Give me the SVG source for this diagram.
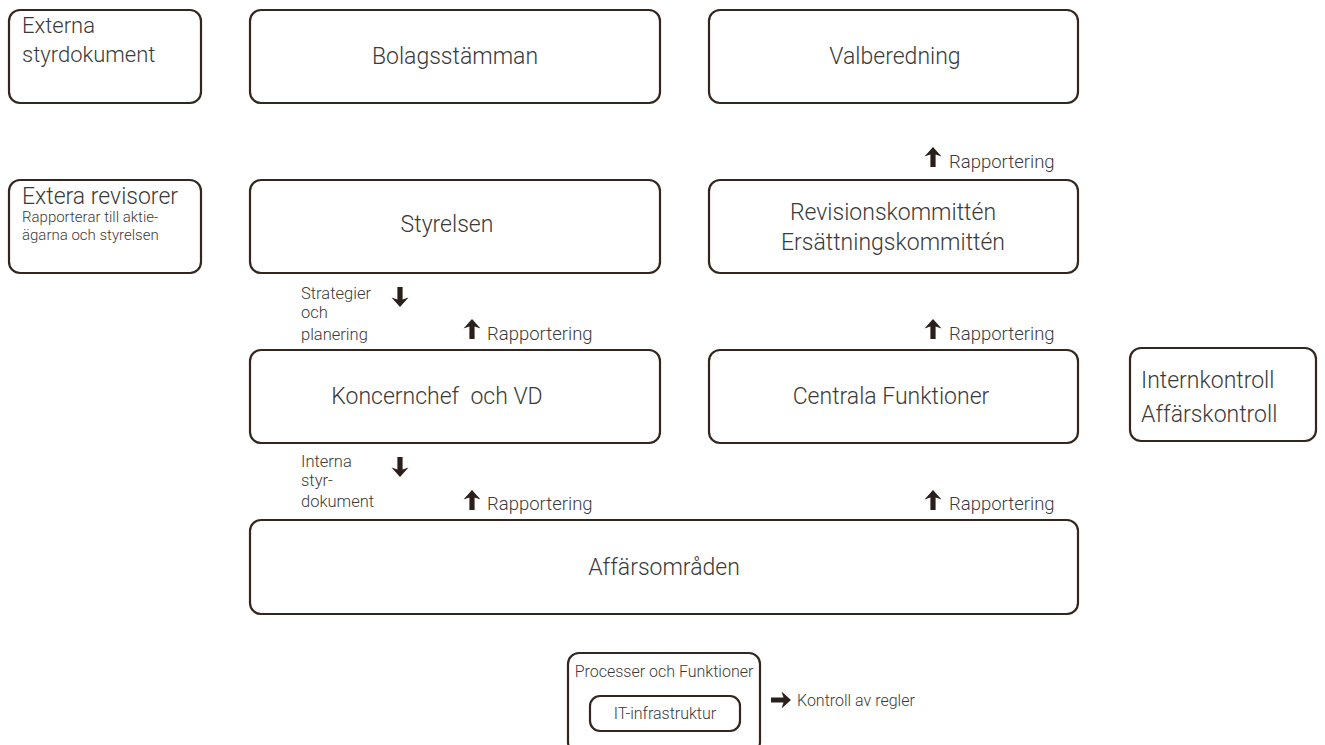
<svg xmlns="http://www.w3.org/2000/svg" xmlns:xlink="http://www.w3.org/1999/xlink" width="1325" height="745" viewBox="0 0 1325 745">
<style>
.box{fill:#fff;stroke:#33261f;stroke-width:2.2}
.t{font-family:Roboto,"Open Sans","Liberation Sans",sans-serif;font-weight:300;fill:#3a3a3a}
.l{font-size:23px}
.m{font-size:22px}
.c{text-anchor:middle}
.s{font-size:18.5px}
.s2{font-size:16.5px}
.p{font-size:16px}
.xs{font-size:15px}
.arr{fill:#2a1f1a}
</style>
<defs>
<polygon id="au" class="arr" points="0,0 8.5,9.5 2.6,7.5 2.6,20 -2.6,20 -2.6,7.5 -8.5,9.5"/>
</defs>
<rect width="1325" height="745" fill="#fff"/>
<g id="externa-styrdokument">
<rect class="box" x="9" y="10" width="192" height="93" rx="11"/>
<text class="t m" x="22" y="33">Externa</text>
<text class="t m" x="22" y="62">styrdokument</text>
</g>
<g id="bolagsstamman">
<rect class="box" x="250" y="10" width="410" height="93" rx="11"/>
<text class="t l c" x="455" y="64">Bolagsstämman</text>
</g>
<g id="valberedning">
<rect class="box" x="709" y="10" width="369" height="93" rx="11"/>
<text class="t l c" x="895" y="64">Valberedning</text>
</g>
<g id="extera-revisorer">
<rect class="box" x="9" y="180" width="192" height="93" rx="11"/>
<text class="t l" x="22" y="204">Extera revisorer</text>
<text class="t xs" x="22" y="222">Rapporterar till aktie-</text>
<text class="t xs" x="22" y="240">ägarna och styrelsen</text>
</g>
<g id="styrelsen">
<rect class="box" x="250" y="180" width="410" height="93" rx="11"/>
<text class="t l c" x="447" y="232">Styrelsen</text>
</g>
<g id="kommitteer">
<rect class="box" x="709" y="180" width="369" height="93" rx="11"/>
<text class="t l c" x="893" y="220">Revisionskommittén</text>
<text class="t l c" x="893" y="250">Ersättningskommittén</text>
</g>
<g id="koncernchef">
<rect class="box" x="250" y="350" width="410" height="93" rx="11"/>
<text class="t l c" x="437" y="404" style="white-space:pre">Koncernchef  och VD</text>
</g>
<g id="centrala-funktioner">
<rect class="box" x="709" y="350" width="369" height="93" rx="11"/>
<text class="t l c" x="891" y="404">Centrala Funktioner</text>
</g>
<g id="internkontroll">
<rect class="box" x="1130" y="348" width="186" height="93" rx="11"/>
<text class="t l" x="1141" y="388">Internkontroll</text>
<text class="t l" x="1141" y="422">Affärskontroll</text>
</g>
<g id="affarsomraden">
<rect class="box" x="250" y="520" width="828" height="94" rx="11"/>
<text class="t l c" x="664" y="575">Affärsområden</text>
</g>
<g id="processer">
<rect class="box" x="568" y="653" width="192" height="100" rx="11"/>
<text class="t p c" x="664" y="677">Processer och Funktioner</text>
</g>
<g id="it-infrastruktur">
<rect class="box" x="590" y="696" width="150" height="35" rx="10"/>
<text class="t p c" x="665" y="719">IT-infrastruktur</text>
</g>
<g id="connectors">
<use xlink:href="#au" transform="translate(933,147)"/>
<text class="t s" x="949" y="168">Rapportering</text>
<use xlink:href="#au" transform="translate(400,307) rotate(180)"/>
<text class="t s2" x="301" y="299">Strategier</text>
<text class="t s2" x="301" y="318">och</text>
<text class="t s2" x="301" y="340">planering</text>
<use xlink:href="#au" transform="translate(472,319)"/>
<text class="t s" x="487" y="340">Rapportering</text>
<use xlink:href="#au" transform="translate(933,319)"/>
<text class="t s" x="949" y="340">Rapportering</text>
<use xlink:href="#au" transform="translate(400,477) rotate(180)"/>
<text class="t s2" x="301" y="467">Interna</text>
<text class="t s2" x="301" y="486">styr-</text>
<text class="t s2" x="301" y="507">dokument</text>
<use xlink:href="#au" transform="translate(472,490)"/>
<text class="t s" x="487" y="510">Rapportering</text>
<use xlink:href="#au" transform="translate(933,490)"/>
<text class="t s" x="949" y="510">Rapportering</text>
<use xlink:href="#au" transform="translate(791,700) rotate(90)"/>
<text class="t p" x="797" y="706">Kontroll av regler</text>
</g>
</svg>
